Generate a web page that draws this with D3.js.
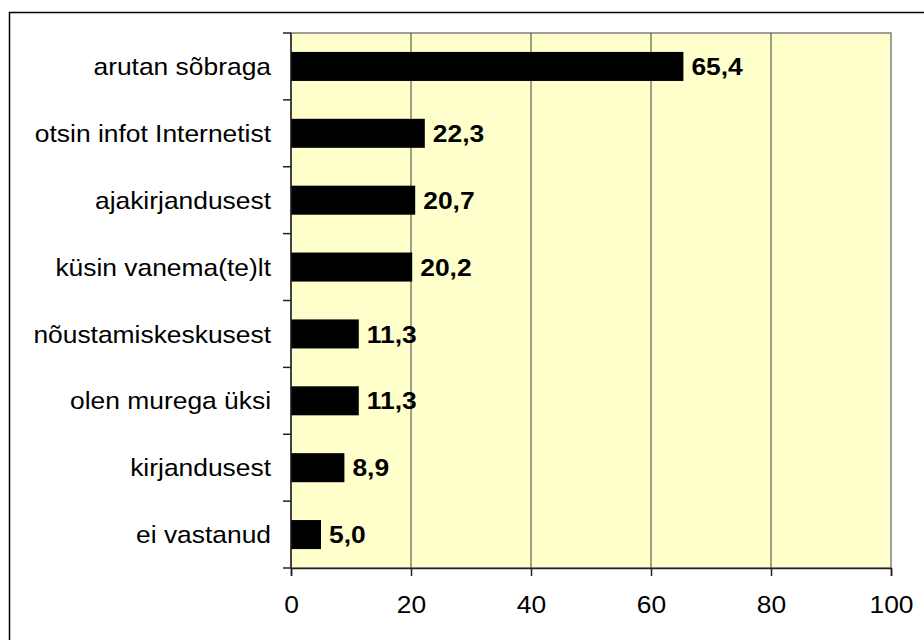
<!DOCTYPE html>
<html>
<head>
<meta charset="utf-8">
<script src="https://cdn.jsdelivr.net/npm/d3@7"></script>
<style>
  body { margin: 0; background: #fff; }
  text { font-family: "Liberation Sans", Arial, sans-serif; }
</style>
</head>
<body>
<script>
// data
var categories = ['arutan sõbraga', 'otsin infot Internetist', 'ajakirjandusest', 'küsin vanema(te)lt',
    'nõustamiskeskusest', 'olen murega üksi', 'kirjandusest', 'ei vastanud'];
var values = [65.4, 22.3, 20.7, 20.2, 11.3, 11.3, 8.9, 5.0];
var xTicks = [0, 20, 40, 60, 80, 100];

var width = 924, height = 640;
var plotLeft = 291, plotRight = 891, plotTop = 33, plotBottom = 568;
var stretch = 1.1; // text in the picture is a bit wider than normal

var svg = d3.select('body').append('svg')
    .attr('width', width)
    .attr('height', height);

// outer frame (only top and left visible)
svg.append('rect')
    .attr('x', 9.5).attr('y', 12.5)
    .attr('width', 940).attr('height', 660)
    .attr('fill', 'none')
    .attr('stroke', '#000')
    .attr('stroke-width', 1.5);

var x = d3.scaleLinear().domain([0, 100]).range([plotLeft, plotRight]);
var y = d3.scaleBand().domain(categories).range([plotTop, plotBottom])
    .paddingInner(0.566).paddingOuter(0.283);

// plot background
svg.append('rect')
    .attr('x', plotLeft).attr('y', plotTop)
    .attr('width', plotRight - plotLeft).attr('height', plotBottom - plotTop)
    .attr('fill', '#FFFFCC')
    .attr('stroke', '#808080')
    .attr('stroke-width', 1.5);

// vertical grid
svg.selectAll('.grid')
    .data(xTicks.slice(1, -1))
    .enter().append('line')
    .attr('x1', function (d) { return x(d); })
    .attr('x2', function (d) { return x(d); })
    .attr('y1', plotTop).attr('y2', plotBottom)
    .attr('stroke', '#404040')
    .attr('stroke-width', 1);

// bars
svg.selectAll('.bar')
    .data(values)
    .enter().append('rect')
    .attr('x', x(0))
    .attr('y', function (d, i) { return y(categories[i]); })
    .attr('width', function (d) { return x(d) - x(0); })
    .attr('height', y.bandwidth())
    .attr('fill', '#000');

// value labels
svg.selectAll('.val')
    .data(values)
    .enter().append('text')
    .attr('transform', function (d, i) {
        return 'translate(' + (x(d) + 8) + ',' + (y(categories[i]) + y.bandwidth() / 2) + ') scale(' + stretch + ',1)';
    })
    .attr('dy', '0.36em')
    .style('font-size', '24px')
    .style('font-weight', 'bold')
    .text(function (d) { return d3.format('.1f')(d).replace('.', ','); });

// left axis line and ticks at band edges
svg.append('line')
    .attr('x1', plotLeft).attr('x2', plotLeft)
    .attr('y1', plotTop).attr('y2', plotBottom)
    .attr('stroke', '#222').attr('stroke-width', 1.5);

var edges = d3.range(categories.length + 1).map(function (i) { return plotTop + i * y.step(); });
svg.selectAll('.ytick')
    .data(edges)
    .enter().append('line')
    .attr('x1', plotLeft - 8).attr('x2', plotLeft)
    .attr('y1', function (d) { return d; })
    .attr('y2', function (d) { return d; })
    .attr('stroke', '#222').attr('stroke-width', 1.5);

svg.selectAll('.cat')
    .data(categories)
    .enter().append('text')
    .attr('transform', function (d) {
        return 'translate(' + (plotLeft - 20) + ',' + (y(d) + y.bandwidth() / 2) + ') scale(' + stretch + ',1)';
    })
    .attr('dy', '0.36em')
    .attr('text-anchor', 'end')
    .style('font-size', '24px')
    .text(function (d) { return d; });

// bottom axis
var xAxis = d3.axisBottom(x).tickValues(xTicks).tickSize(8).tickPadding(20);
var gx = svg.append('g')
    .attr('transform', 'translate(0,' + plotBottom + ')')
    .call(xAxis);
gx.select('.domain').attr('stroke', '#222').attr('stroke-width', 1.5);
gx.selectAll('.tick line').attr('stroke', '#222').attr('stroke-width', 1.5);
gx.selectAll('.tick text')
    .attr('fill', '#000')
    .style('font-size', '24px')
    .attr('transform', 'scale(' + stretch + ',1)');
</script>
</body>
</html>
